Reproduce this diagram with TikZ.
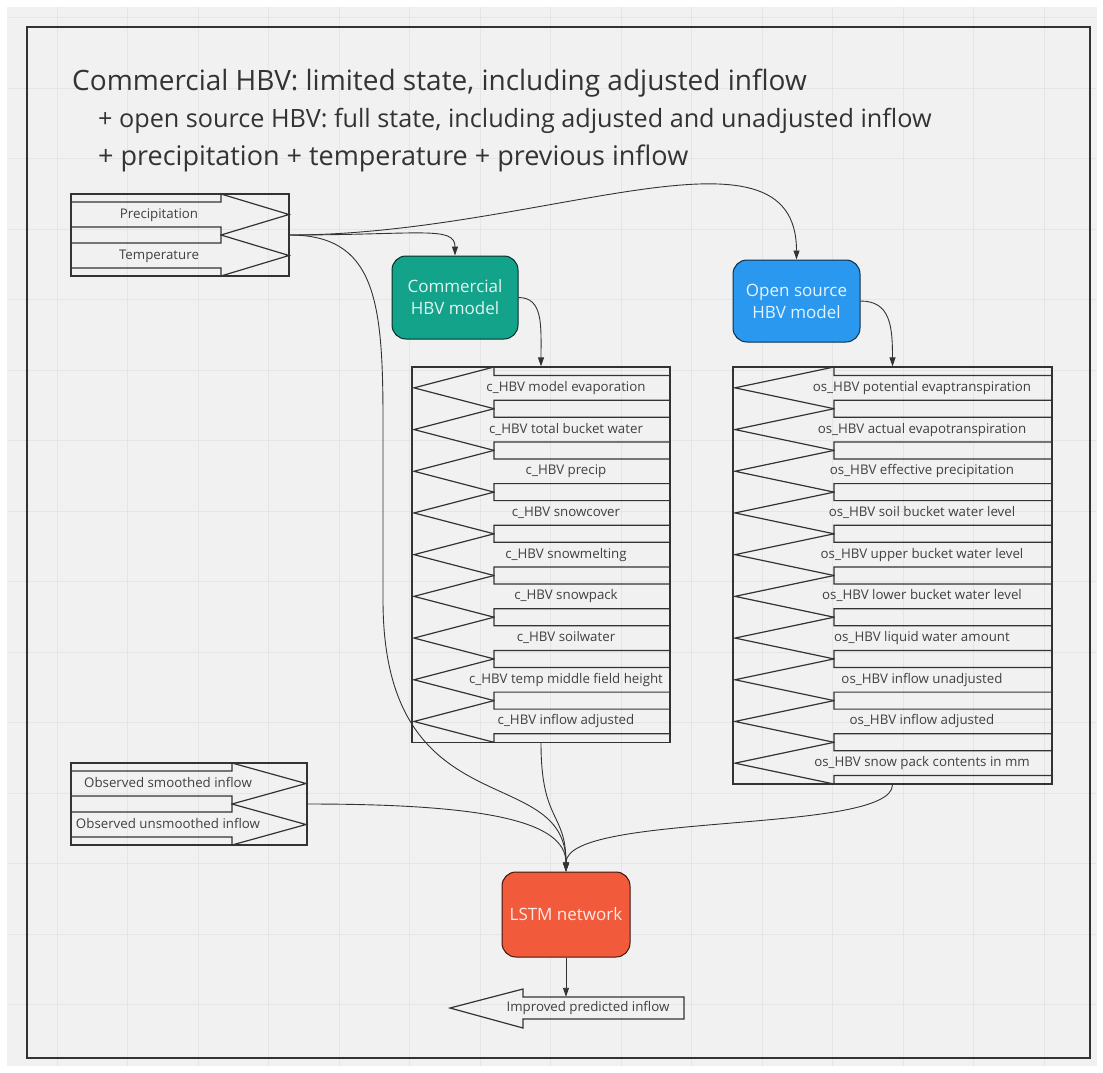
\documentclass[tikz,border=0pt]{standalone}
\usepackage{fontspec}
\setmainfont{Open Sans}
\usetikzlibrary{arrows.meta, positioning}

\definecolor{bggray}{HTML}{F1F1F1}
\definecolor{gridgray}{HTML}{E5E5E5}
\definecolor{framegray}{HTML}{333333}
\definecolor{hbvteal}{HTML}{12A38A}
\definecolor{hbvblue}{HTML}{2A98EE}
\definecolor{lstmred}{HTML}{F25A3C}

\begin{document}
\begin{tikzpicture}[x=1pt, y=-1pt,
  every node/.style={font=\fontsize{13.3}{15}\selectfont, text=black!75},
  item/.style={inner sep=0pt, text height=9.5pt, text depth=2.5pt},
  shapebox/.style={draw=framegray, line width=1.2pt, inner sep=0pt},
  shapeline/.style={draw=framegray, line width=1.2pt, line join=miter},
  model/.style={rounded corners=14pt, line width=1pt, inner sep=0pt, align=center,
    font=\fontsize{17}{22}\selectfont},
  link/.style={draw=black!80, line width=0.9pt, -{Triangle[length=9pt,width=6pt]}},
  titleline/.style={anchor=base west, inner sep=0pt, text=black!80}]
\useasboundingbox (0,0) rectangle (1103,1072);
\fill[white] (0,0) rectangle (1103,1072);
\fill[bggray] (7,7) rectangle (1097,1066);
% faint board grid
\foreach \gx in {57,127.5,...,1097}
  \draw[gridgray, line width=0.8pt] (\gx,7) -- (\gx,1066);
\foreach \gy in {17.5,88,...,1066}
  \draw[gridgray, line width=0.8pt] (7,\gy) -- (1097,\gy);
\draw[framegray, line width=1.2pt] (27,27) rectangle (1090,1058);

% heading
\node[titleline, font=\fontsize{28}{32}\selectfont] (title1) at (72,90)
  {Commercial HBV: limited state, including adjusted inflow};
\node[titleline, font=\fontsize{25.2}{32}\selectfont] (title2) at (98,127.5)
  {+ open source HBV: full state, including adjusted and unadjusted inflow};
\node[titleline, font=\fontsize{27}{32}\selectfont] (title3) at (98,165)
  {+ precipitation + temperature + previous inflow};

% weather inputs
\node[shapebox, minimum width=218, minimum height=82] (inbox) at (180,235) {};
\foreach \i/\lbl in {0/Precipitation, 1/Temperature} {
  \pgfmathsetmacro{\rowtop}{194+41*\i}
  \draw[shapeline] (71,\rowtop+8) -- (221,\rowtop+8) -- (221,\rowtop) -- (289,\rowtop+20.5)
    -- (221,\rowtop+41) -- (221,\rowtop+33) -- (71,\rowtop+33) -- cycle;
  \node[item] (in\i) at (159,\rowtop+20.5) {\lbl};
}

% observed inflow
\node[shapebox, minimum width=236, minimum height=82] (obsbox) at (189,804) {};
\foreach \i/\lbl in {0/Observed smoothed inflow, 1/Observed unsmoothed inflow} {
  \pgfmathsetmacro{\rowtop}{763+41*\i}
  \draw[shapeline] (71,\rowtop+8) -- (232,\rowtop+8) -- (232,\rowtop) -- (306,\rowtop+20.5)
    -- (232,\rowtop+41) -- (232,\rowtop+33) -- (71,\rowtop+33) -- cycle;
  \node[item] (obs\i) at (168,\rowtop+20.5) {\lbl};
}

% models
\node[model, fill=hbvteal, draw=hbvteal!30!black, text=hbvteal!12!white,
  minimum width=126, minimum height=83] (com) at (455,297.5) {Commercial\\HBV model};
\node[model, fill=hbvblue, draw=hbvblue!30!black, text=hbvblue!12!white,
  minimum width=127, minimum height=82] (os) at (796.5,301) {Open source\\HBV model};
\node[model, fill=lstmred, draw=lstmred!25!black, text=lstmred!12!white,
  minimum width=128, minimum height=85] (lstm) at (566,914.5) {LSTM network};

% commercial HBV outputs
\node[shapebox, minimum width=258, minimum height=375.3] (clist) at (541,554.65) {};
\foreach \i/\lbl in {0/c\_HBV model evaporation, 1/c\_HBV total bucket water,
    2/c\_HBV precip, 3/c\_HBV snowcover, 4/c\_HBV snowmelting, 5/c\_HBV snowpack,
    6/c\_HBV soilwater, 7/c\_HBV temp middle field height, 8/c\_HBV inflow adjusted} {
  \pgfmathsetmacro{\rowtop}{367+41.7*\i}
  \draw[shapeline] (414,\rowtop+20.85) -- (494,\rowtop) -- (494,\rowtop+8.5) -- (670,\rowtop+8.5)
    -- (670,\rowtop+33.2) -- (494,\rowtop+33.2) -- (494,\rowtop+41.7) -- cycle;
  \node[item] (c\i) at (566,\rowtop+20.85) {\lbl};
}

% open source HBV outputs
\node[shapebox, minimum width=319, minimum height=417] (oslist) at (892.5,575.5) {};
\foreach \i/\lbl in {0/os\_HBV potential evaptranspiration, 1/os\_HBV actual evapotranspiration,
    2/os\_HBV effective precipitation, 3/os\_HBV soil bucket water level,
    4/os\_HBV upper bucket water level, 5/os\_HBV lower bucket water level,
    6/os\_HBV liquid water amount, 7/os\_HBV inflow unadjusted,
    8/os\_HBV inflow adjusted, 9/os\_HBV snow pack contents in mm} {
  \pgfmathsetmacro{\rowtop}{367+41.7*\i}
  \draw[shapeline] (735,\rowtop+20.85) -- (834,\rowtop) -- (834,\rowtop+8.5) -- (1052,\rowtop+8.5)
    -- (1052,\rowtop+33.2) -- (834,\rowtop+33.2) -- (834,\rowtop+41.7) -- cycle;
  \node[item] (os\i) at (922,\rowtop+20.85) {\lbl};
}

% result
\node[inner sep=0pt, minimum width=161, minimum height=22] (out) at (603.5,1008) {};
\draw[shapeline] (450,1008) -- (523,989) -- (523,997) -- (684,997) -- (684,1019)
  -- (523,1019) -- (523,1028) -- cycle;
\node[item] (outlbl) at (588,1008) {Improved predicted inflow};

% connectors
\draw[link] (inbox.east) .. controls +(130,0) and +(0,-30) .. (com.north);
\draw[link] (inbox.east) .. controls (540,235) and (796.5,110) .. (os.north);
\draw[link] (inbox.east) .. controls (375,235) and (383,300) .. (383,420) -- (383,600)
  .. controls (383,830) and (566,760) .. (lstm.north);
\draw[link] (com.east) .. controls +(25,0) and +(0,-40) .. (clist.north);
\draw[link] (os.east) .. controls +(30,0) and +(0,-40) .. (oslist.north);
\draw[link] (clist.south) .. controls +(0,80) and +(0,-60) .. (lstm.north);
\draw[link] (oslist.south) .. controls +(0,50) and +(0,-60) .. (lstm.north);
\draw[link] (obsbox.east) .. controls +(180,0) and +(0,-50) .. (lstm.north);
\draw[link] (lstm.south) -- (lstm.south |- out.north);
\end{tikzpicture}
\end{document}
